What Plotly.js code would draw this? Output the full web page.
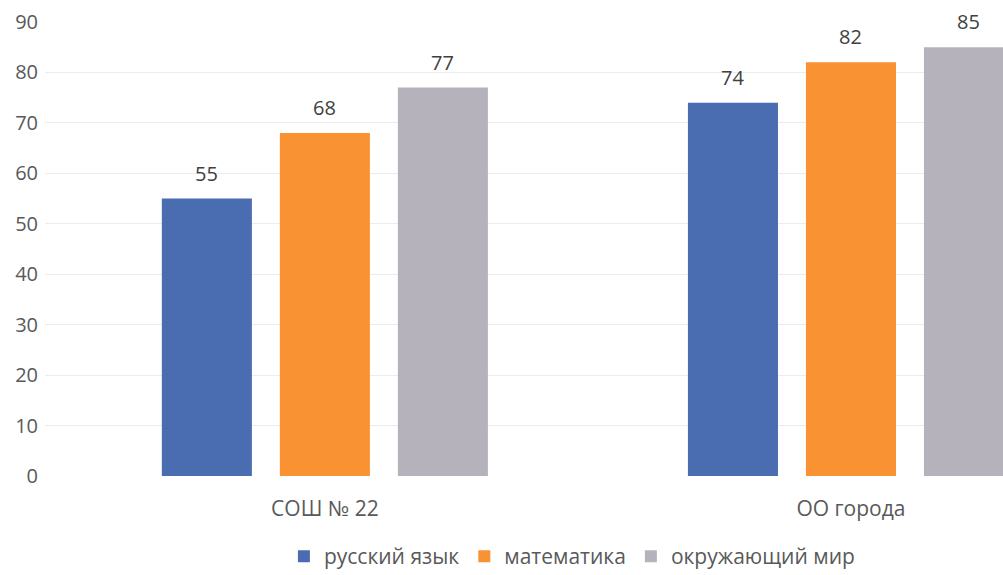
<!DOCTYPE html>
<html>
<head>
<meta charset="utf-8">
<script src="https://cdn.plot.ly/plotly-3.0.1.min.js"></script>
<style>html,body{margin:0;padding:0;background:#fff;}#chart{width:1003px;height:575px;}</style>
</head>
<body>
<div id="chart"></div>
<script>
const categories = ["СОШ № 22", "ОО города"];
const seriesNames = ["русский язык", "математика", "окружающий мир"];
const russian = [55, 74];
const math = [68, 82];
const world = [77, 85];
const yTicks = [0, 10, 20, 30, 40, 50, 60, 70, 80, 90];

const seriesValues = [russian, math, world];
const colors = ["#4a6cb0", "#f99233", "#b6b2bb"];
const bargap = 0.327, bargroupgap = 0.237;
const slot = (1 - bargap) / seriesValues.length;

const traces = seriesValues.map((vals, s) => ({
  type: "bar",
  name: seriesNames[s],
  x: categories.map((c, i) => i),
  y: vals,
  marker: {color: colors[s]},
  hoverinfo: "none"
}));

const annotations = [];
seriesValues.forEach((vals, s) => {
  vals.forEach((v, i) => {
    annotations.push({
      x: i + (s - (seriesValues.length - 1) / 2) * slot,
      y: v, xref: "x", yref: "y",
      text: String(v), showarrow: false,
      yanchor: "bottom", yshift: 10,
      font: {family: "Open Sans, sans-serif", size: 20, color: "#404040"}
    });
  });
});

const layout = {
  width: 1003, height: 575,
  margin: {l: 45, r: 0, t: 22, b: 99},
  paper_bgcolor: "#ffffff", plot_bgcolor: "#ffffff",
  barmode: "group", bargap: bargap, bargroupgap: bargroupgap,
  showlegend: true,
  legend: {
    orientation: "h", x: 0.55, xanchor: "center",
    yref: "container", y: 0.032, yanchor: "middle",
    font: {family: "Open Sans, sans-serif", size: 21, color: "#595959"},
    itemclick: false, traceorder: "normal"
  },
  xaxis: {
    type: "linear",
    range: [-0.532, 1.289],
    tickvals: categories.map((c, i) => i),
    ticktext: categories,
    showgrid: false, zeroline: false, showline: false, ticks: "",
    ticklabelstandoff: 18,
    tickfont: {family: "Open Sans, sans-serif", size: 21, color: "#595959"}
  },
  yaxis: {
    range: [0, 90],
    tickvals: yTicks,
    showgrid: true, gridcolor: "#ececec", gridwidth: 1,
    zeroline: false, showline: false, ticks: "",
    ticklabelstandoff: 6,
    tickfont: {family: "Open Sans, sans-serif", size: 20, color: "#595959"}
  },
  annotations: annotations,
  font: {family: "Open Sans, sans-serif"}
};

Plotly.newPlot("chart", traces, layout, {displayModeBar: false, staticPlot: true});
</script>
</body>
</html>
